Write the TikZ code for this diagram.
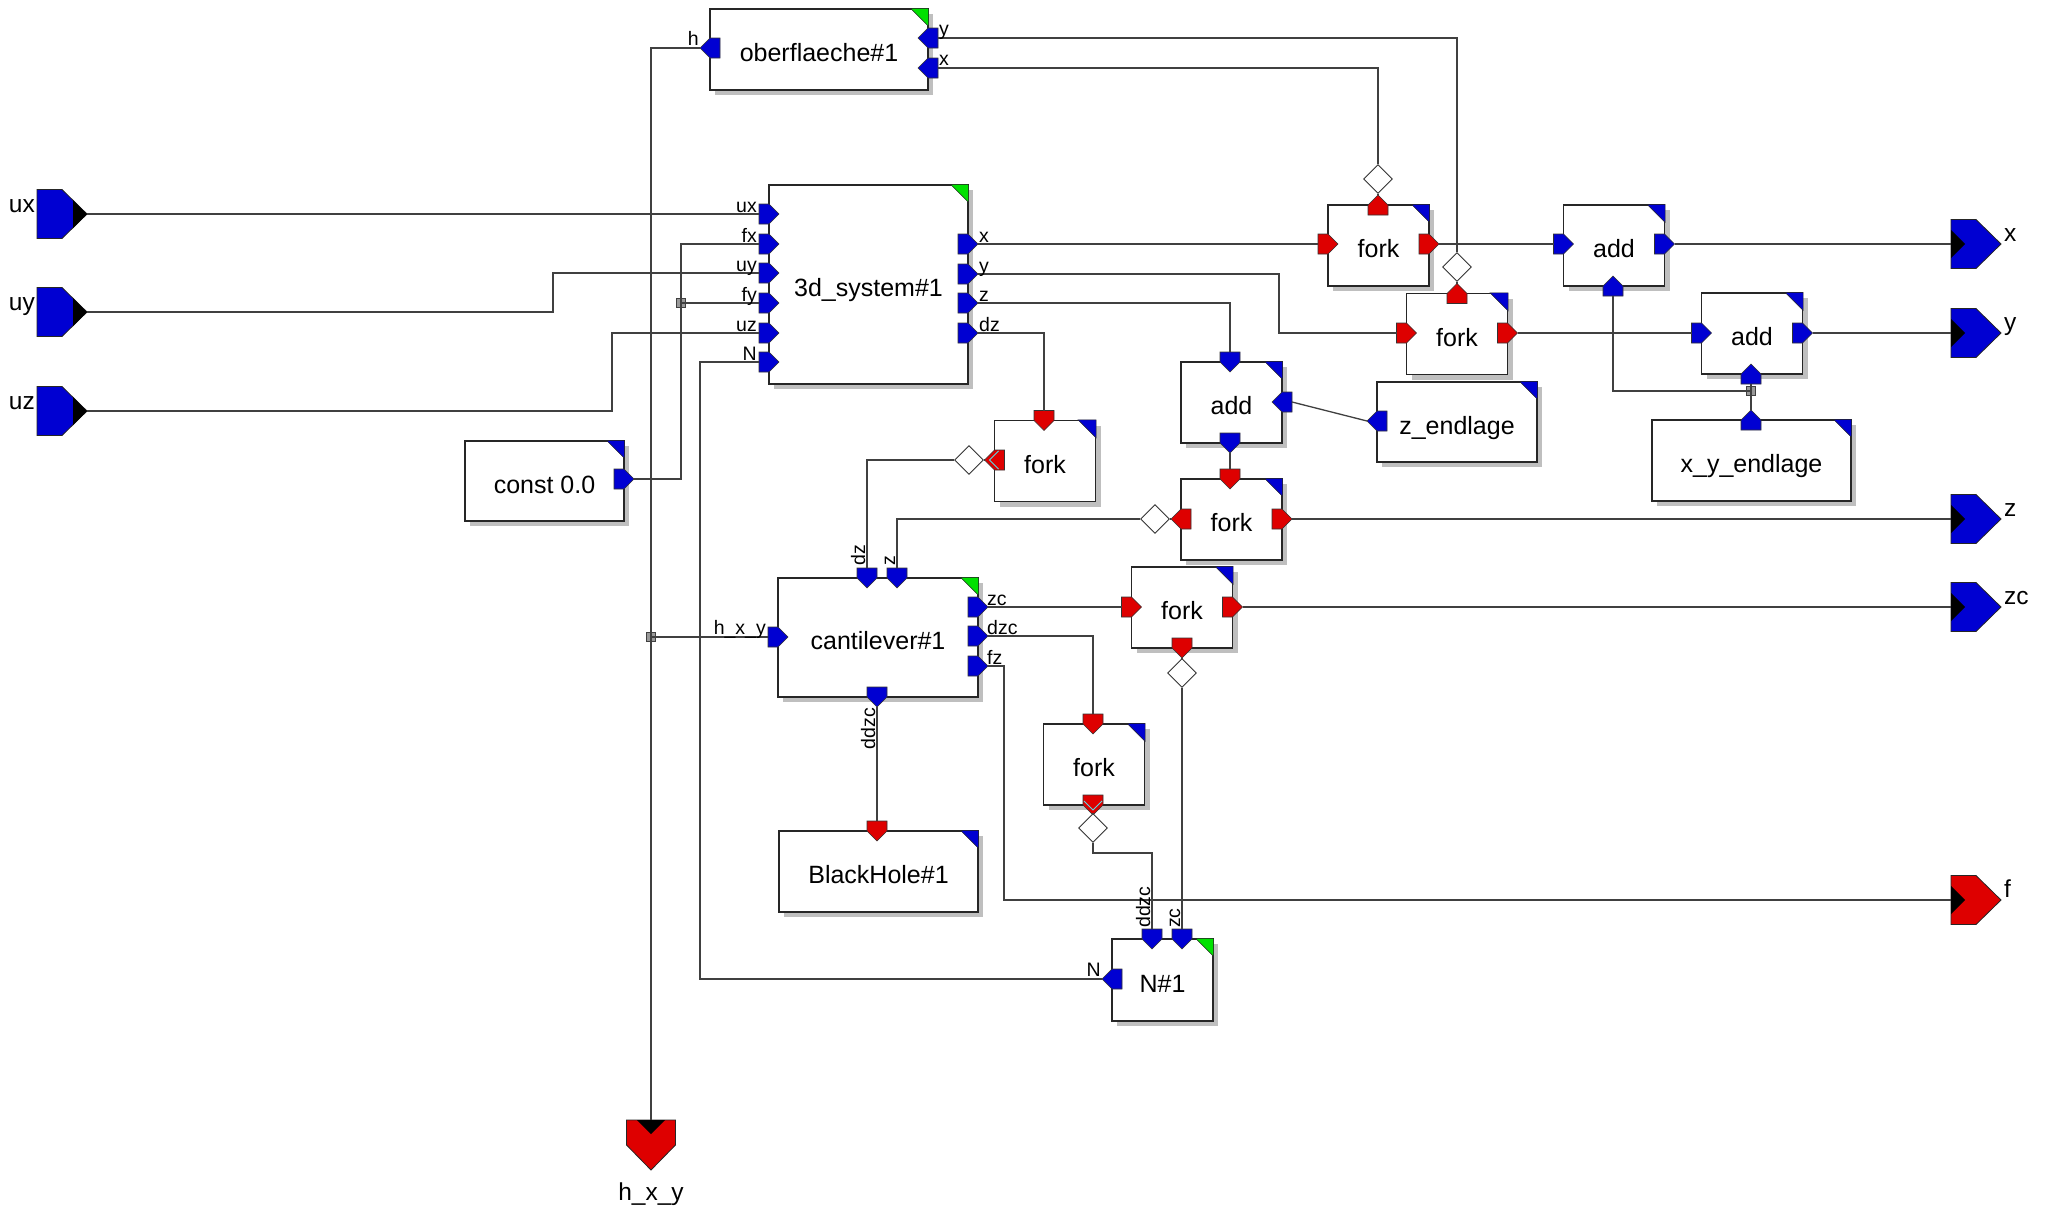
\documentclass[tikz,border=0pt]{standalone}
\usepackage{fontspec}
\setmainfont{Liberation Sans}
\usetikzlibrary{shapes.geometric,shadows}
\definecolor{portblue}{RGB}{0,0,210}
\definecolor{portred}{RGB}{222,0,0}
\definecolor{markgreen}{RGB}{0,225,0}
\definecolor{selcyan}{RGB}{90,220,230}

% small triangle in the upper right corner of a block
\newcommand\cornermark[2]{%
  \filldraw[fill=#2, draw=black!85, line width=0.6pt]
    ([xshift=-18pt]#1.north east) -- (#1.north east) -- ([yshift=-18pt]#1.north east) -- cycle;}

\begin{document}
\begin{tikzpicture}[x=1pt, y=-1pt,
  block/.style={draw=black!85, line width=1.2pt, fill=white, inner sep=0pt,
    font=\fontsize{25}{30}\selectfont, text height=24pt, text depth=0pt,
    general shadow={fill=black!25, shadow xshift=5pt, shadow yshift=-5pt}},
  smallblock/.style={minimum width=101pt, minimum height=81pt},
  wire/.style={draw=black!75, line width=1.3pt},
  diam/.style={shape=diamond, draw=black!80, fill=white, line width=0.9pt,
    minimum width=29pt, minimum height=29pt, inner sep=0pt},
  junc/.style={rectangle, draw=black!75, fill=black!40, line width=0.8pt,
    minimum size=9pt, inner sep=0pt},
  plab/.style={inner sep=0pt, font=\fontsize{19.5}{22}\selectfont},
  olab/.style={inner sep=0pt, font=\fontsize{24.5}{28}\selectfont},
  % block port: #1 = direction of flow, #2 = fill colour
  pics/port/.style n args={2}{code={
    \begin{scope}[rotate=#1]
      \filldraw[fill=#2, draw=black!80, line width=0.6pt]
        (-10,-10) -- (0,-10) -- (10,0) -- (0,10) -- (-10,10) -- cycle;
      \coordinate (-back) at (-10,0);
      \coordinate (-tip) at (10,0);
    \end{scope}}},
  % selected port, with the cyan chevron
  pics/selport/.style n args={2}{code={
    \begin{scope}[rotate=#1]
      \filldraw[fill=#2, draw=black!80, line width=0.6pt]
        (-10,-10) -- (0,-10) -- (10,0) -- (0,10) -- (-10,10) -- cycle;
      \draw[selcyan, line width=0.8pt] (-4,-9) -- (5,0) -- (-4,9);
      \coordinate (-back) at (-10,0);
      \coordinate (-tip) at (10,0);
    \end{scope}}},
  % system input terminal
  pics/srcterm/.style n args={2}{code={
    \begin{scope}[rotate=#1]
      \filldraw[fill=#2, draw=black!85, line width=0.8pt]
        (-50,-24.5) -- (-25,-24.5) -- (0,0) -- (-25,24.5) -- (-50,24.5) -- cycle;
      \fill[black] (-14,-14) -- (0,0) -- (-14,14) -- cycle;
      \coordinate (-tip) at (0,0);
    \end{scope}}},
  % system output terminal
  pics/sinkterm/.style n args={2}{code={
    \begin{scope}[rotate=#1]
      \filldraw[fill=#2, draw=black!85, line width=0.8pt]
        (-50,-24.5) -- (-25,-24.5) -- (0,0) -- (-25,24.5) -- (-50,24.5) -- cycle;
      \fill[black] (-50,-14) -- (-36,0) -- (-50,14) -- cycle;
      \coordinate (-in) at (-50,0);
    \end{scope}}},
]
\fill[white] (0,0) rectangle (2053,1210);
\useasboundingbox (0,0) rectangle (2053,1210);

% ---------- blocks ----------
\node[block, minimum width=218pt, minimum height=81pt] (ober) at (819,49.5) {oberflaeche\#1};
\node[block, minimum width=199pt, minimum height=199pt] (sys) at (868.5,284.5) {3d\_system\#1};
\node[block, minimum width=159pt, minimum height=80pt] (cst) at (544.5,481) {const 0.0};
\node[block, smallblock] (fk1) at (1378.5,245.5) {fork};
\node[block, smallblock] (fk2) at (1457,334) {fork};
\node[block, smallblock] (ad1) at (1614,245.5) {add};
\node[block, smallblock] (ad2) at (1752,333.5) {add};
\node[block, smallblock] (ad3) at (1231.5,402.5) {add};
\node[block, minimum width=160pt, minimum height=80pt] (zend) at (1457,422) {z\_endlage};
\node[block, minimum width=199pt, minimum height=81pt] (xyend) at (1751.5,460.5) {x\_y\_endlage};
\node[block, smallblock] (fk3) at (1231.5,519.5) {fork};
\node[block, smallblock] (fk4) at (1045,461) {fork};
\node[block, minimum width=200pt, minimum height=119pt] (cant) at (878,637.5) {cantilever\#1};
\node[block, smallblock] (fk5) at (1182,607.5) {fork};
\node[block, smallblock] (fk6) at (1094,764.5) {fork};
\node[block, minimum width=199pt, minimum height=81pt] (bh) at (878.5,871.5) {BlackHole\#1};
\node[block, smallblock, minimum height=82pt] (nn) at (1162.5,980) {N\#1};

\cornermark{ober}{markgreen}
\cornermark{sys}{markgreen}
\cornermark{cant}{markgreen}
\cornermark{nn}{markgreen}
\foreach \b in {cst,fk1,fk2,ad1,ad2,ad3,zend,xyend,fk3,fk4,fk5,fk6,bh}
  {\cornermark{\b}{portblue}}

% ---------- ports ----------
\pic (oH) at (710,48) {port={180}{portblue}};
\pic (oY) at (928,38) {port={180}{portblue}};
\pic (oX) at (928,68) {port={180}{portblue}};
\pic (sUx) at (769,214) {port={0}{portblue}};
\pic (sFx) at (769,244) {port={0}{portblue}};
\pic (sUy) at (769,273) {port={0}{portblue}};
\pic (sFy) at (769,303) {port={0}{portblue}};
\pic (sUz) at (769,333) {port={0}{portblue}};
\pic (sN) at (769,362) {port={0}{portblue}};
\pic (sX) at (968,244) {port={0}{portblue}};
\pic (sY) at (968,274) {port={0}{portblue}};
\pic (sZ) at (968,303) {port={0}{portblue}};
\pic (sDz) at (968,333) {port={0}{portblue}};
\pic (cOut) at (624,479) {port={0}{portblue}};
\pic (f1In) at (1328,244) {port={0}{portred}};
\pic (f1Out) at (1429,244) {port={0}{portred}};
\pic (f1Up) at (1378,205) {port={90}{portred}};
\pic (f2In) at (1406.5,333) {port={0}{portred}};
\pic (f2Out) at (1507.5,333) {port={0}{portred}};
\pic (f2Up) at (1457,293.5) {port={90}{portred}};
\pic (a1In) at (1563.5,244) {port={0}{portblue}};
\pic (a1Out) at (1664.5,244) {port={0}{portblue}};
\pic (a1Up) at (1613,286) {port={90}{portblue}};
\pic (a2In) at (1701.5,333) {port={0}{portblue}};
\pic (a2Out) at (1802.5,333) {port={0}{portblue}};
\pic (a2Up) at (1751,374) {port={90}{portblue}};
\pic (a3Top) at (1230,362) {port={-90}{portblue}};
\pic (a3R) at (1282,402) {port={180}{portblue}};
\pic (a3Bot) at (1230,443) {port={-90}{portblue}};
\pic (zeOut) at (1377,421) {port={180}{portblue}};
\pic (xyOut) at (1751,420) {port={90}{portblue}};
\pic (f3In) at (1230,479) {port={-90}{portred}};
\pic (f3L) at (1181,519) {port={180}{portred}};
\pic (f3R) at (1282,519) {port={0}{portred}};
\pic (f4In) at (1044,420.5) {port={-90}{portred}};
\pic (f4L) at (994.5,460) {selport={180}{portred}};
\pic (cDz) at (867,578) {port={-90}{portblue}};
\pic (cZ) at (897,578) {port={-90}{portblue}};
\pic (cH) at (778,637) {port={0}{portblue}};
\pic (cZc) at (978,607) {port={0}{portblue}};
\pic (cDzc) at (978,636) {port={0}{portblue}};
\pic (cFz) at (978,666) {port={0}{portblue}};
\pic (cDdzc) at (877,697) {port={-90}{portblue}};
\pic (f5In) at (1131.5,607) {port={0}{portred}};
\pic (f5Out) at (1232.5,607) {port={0}{portred}};
\pic (f5Dn) at (1182,648) {port={-90}{portred}};
\pic (f6In) at (1093,724) {port={-90}{portred}};
\pic (f6Dn) at (1093,805) {selport={-90}{portred}};
\pic (bhIn) at (877,831) {port={-90}{portred}};
\pic (nDdzc) at (1152,939) {port={-90}{portblue}};
\pic (nZc) at (1182,939) {port={-90}{portblue}};
\pic (nN) at (1112,979) {port={180}{portblue}};

% ---------- system terminals ----------
\pic (ux) at (87,214) {srcterm={0}{portblue}};
\pic (uy) at (87,312) {srcterm={0}{portblue}};
\pic (uz) at (87,411) {srcterm={0}{portblue}};
\pic (xo) at (2001,244) {sinkterm={0}{portblue}};
\pic (yo) at (2001,333) {sinkterm={0}{portblue}};
\pic (zo) at (2001,519) {sinkterm={0}{portblue}};
\pic (zco) at (2001,607) {sinkterm={0}{portblue}};
\pic (fo) at (2001,900) {sinkterm={0}{portred}};
\pic (hxy) at (651,1170) {sinkterm={-90}{portred}};

% ---------- connectors ----------
\node[diam] (d1) at (1378,179) {};
\node[diam] (d2) at (1457,267) {};
\node[diam] (d3) at (1155,519) {};
\node[diam] (d4) at (969,460) {};
\node[diam] (d5) at (1182,673) {};
\node[diam] (d6) at (1093,828) {};
\node[junc] (j1) at (681,303) {};
\node[junc] (j2) at (651,637) {};
\node[junc] (j3) at (1751,391) {};

% ---------- wires ----------
\draw[wire] (ux-tip) -- (sUx-back);
\draw[wire] (uy-tip) -- ++(466,0) |- (sUy-back);
\draw[wire] (uz-tip) -- ++(525,0) |- (sUz-back);
\draw[wire] (cOut-tip) -| (j1.center) |- (sFx-back);
\draw[wire] (j1.center) -- (sFy-back);
\draw[wire] (nN-tip) -- ++(-402,0) |- (sN-back);
\draw[wire] (oH-tip) -| (hxy-in);
\draw[wire] (j2.center) -- (cH-back);
\draw[wire] (oY-back) -| (d2.north);
\draw[wire] (oX-back) -| (d1.north);
\draw[wire] (f1Up-tip) -- (d1.south);
\draw[wire] (f2Up-tip) -- (d2.south);
\draw[wire] (sX-tip) -- (f1In-back);
\draw[wire] (sY-tip) -- ++(301,0) |- (f2In-back);
\draw[wire] (sZ-tip) -| (a3Top-back);
\draw[wire] (sDz-tip) -| (f4In-back);
\draw[wire] (f1Out-tip) -- (a1In-back);
\draw[wire] (f2Out-tip) -- (a2In-back);
\draw[wire] (a1Out-tip) -- (xo-in);
\draw[wire] (a2Out-tip) -- (yo-in);
\draw[wire] (a1Up-back) |- (j3.center);
\draw[wire] (j3.center) -- (a2Up-back);
\draw[wire] (j3.center) -- (xyOut-tip);
\draw[wire] (a3R-back) -- (zeOut-tip);
\draw[wire] (a3Bot-tip) -- (f3In-back);
\draw[wire] (f3R-tip) -- (zo-in);
\draw[wire] (f3L-tip) -- (d3.east);
\draw[wire] (d3.west) -| (cZ-back);
\draw[wire] (f4L-tip) -- (d4.east);
\draw[wire] (d4.west) -| (cDz-back);
\draw[wire] (cZc-tip) -- (f5In-back);
\draw[wire] (f5Out-tip) -- (zco-in);
\draw[wire] (f5Dn-tip) -- (d5.north);
\draw[wire] (d5.south) -- (nZc-back);
\draw[wire] (cDzc-tip) -| (f6In-back);
\draw[wire] (f6Dn-tip) -- (d6.north);
\draw[wire] (d6.south) -- ++(0,10) -| (nDdzc-back);
\draw[wire] (cFz-tip) -- ++(16,0) |- (fo-in);
\draw[wire] (cDdzc-tip) -- (bhIn-back);

% ---------- port labels ----------
\node[plab, anchor=base east] (lH) at (699,45) {h};
\node[plab, anchor=base west] (lOy) at (939,35) {y};
\node[plab, anchor=base west] (lOx) at (939,65) {x};
\node[plab, anchor=base east] (lUx) at (757,212) {ux};
\node[plab, anchor=base east] (lFx) at (757,242) {fx};
\node[plab, anchor=base east] (lUy) at (757,271) {uy};
\node[plab, anchor=base east] (lFy) at (757,301) {fy};
\node[plab, anchor=base east] (lUz) at (757,331) {uz};
\node[plab, anchor=base east] (lN) at (757,360) {N};
\node[plab, anchor=base west] (lSx) at (979,242) {x};
\node[plab, anchor=base west] (lSy) at (979,272) {y};
\node[plab, anchor=base west] (lSz) at (979,301) {z};
\node[plab, anchor=base west] (lSdz) at (979,331) {dz};
\node[plab, anchor=base east] (lCh) at (766,634) {h\_x\_y};
\node[plab, anchor=base west] (lCzc) at (987,605) {zc};
\node[plab, anchor=base west] (lCdzc) at (987,634) {dzc};
\node[plab, anchor=base west] (lCfz) at (987,664) {fz};
\node[plab, anchor=base west, rotate=90] (lCdz) at (865,566) {dz};
\node[plab, anchor=base west, rotate=90] (lCz) at (895,566) {z};
\node[plab, anchor=base east, rotate=90] (lCddzc) at (875,708) {ddzc};
\node[plab, anchor=base west, rotate=90] (lNddzc) at (1150,928) {ddzc};
\node[plab, anchor=base west, rotate=90] (lNzc) at (1180,928) {zc};
\node[plab, anchor=base east] (lNn) at (1101,976) {N};

% ---------- terminal labels ----------
\node[olab, anchor=base east] (tUx) at (35,212) {ux};
\node[olab, anchor=base east] (tUy) at (35,310) {uy};
\node[olab, anchor=base east] (tUz) at (35,409) {uz};
\node[olab, anchor=base west] (tX) at (2004,241) {x};
\node[olab, anchor=base west] (tY) at (2004,330) {y};
\node[olab, anchor=base west] (tZ) at (2004,516) {z};
\node[olab, anchor=base west] (tZc) at (2004,604) {zc};
\node[olab, anchor=base west] (tF) at (2004,897) {f};
\node[olab, anchor=base] (tHxy) at (651,1200) {h\_x\_y};
\end{tikzpicture}
\end{document}
